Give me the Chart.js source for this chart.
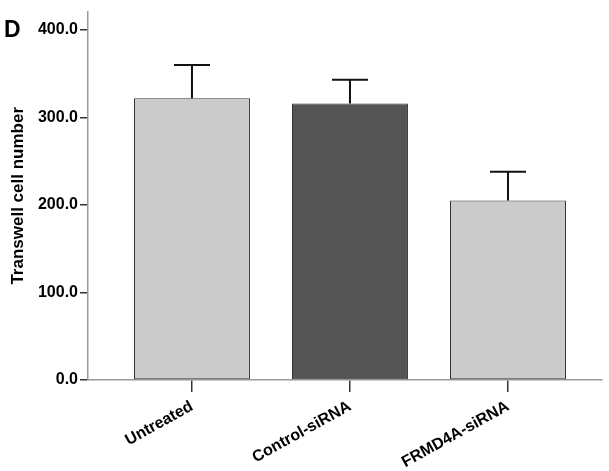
<!DOCTYPE html>
<html>
<head>
<meta charset="utf-8">
<script src="https://cdn.jsdelivr.net/npm/chart.js@4"></script>
<style>
html,body{margin:0;padding:0;background:#fff;}
canvas{display:block;}
</style>
</head>
<body>
<canvas id="c" width="609" height="471"></canvas>
<script>
const categories = ['Untreated', 'Control-siRNA', 'FRMD4A-siRNA'];
const means = [322, 316, 205];
const errors = [38, 27, 33];
const yTicks = [0, 100, 200, 300, 400];
const barColors = ['#cbcbcb', '#545454', '#cbcbcb'];
const panelLabel = 'D';
const yTitle = 'Transwell cell number';

const errorBars = {
  id: 'errorBars',
  afterDatasetsDraw(chart) {
    const xs = chart.scales.x, ys = chart.scales.y, ctx = chart.ctx;
    ctx.save();
    ctx.strokeStyle = '#111';
    ctx.lineWidth = 2;
    means.forEach((m, i) => {
      const x = xs.getPixelForValue(i);
      const y0 = ys.getPixelForValue(m);
      const y1 = ys.getPixelForValue(m + errors[i]);
      ctx.beginPath();
      ctx.moveTo(x, y0);
      ctx.lineTo(x, y1);
      ctx.moveTo(x - 18, y1);
      ctx.lineTo(x + 18, y1);
      ctx.stroke();
    });
    ctx.restore();
  },
  afterDraw(chart) {
    const ctx = chart.ctx;
    ctx.save();
    ctx.fillStyle = '#000';
    ctx.font = 'bold 23px "Liberation Sans", Arial, sans-serif';
    ctx.textBaseline = 'alphabetic';
    ctx.fillText(panelLabel, 4, 37);
    ctx.restore();
  }
};

new Chart(document.getElementById('c'), {
  type: 'bar',
  data: {
    datasets: [{
      data: means.map((v, i) => ({x: i, y: v})),
      backgroundColor: barColors,
      borderColor: '#333',
      borderWidth: 1,
      borderSkipped: false,
      barPercentage: 0.734,
      categoryPercentage: 1
    }]
  },
  options: {
    responsive: false,
    animation: false,
    layout: {padding: {top: 10, right: 7, left: 0, bottom: 0}},
    plugins: {legend: {display: false}, tooltip: {enabled: false}},
    scales: {
      x: {
        type: 'linear',
        offset: false,
        min: -0.658,
        max: 2.595,
        afterBuildTicks(axis) { axis.ticks = categories.map((c, i) => ({value: i})); },
        afterFit(scale) { scale.height = 91; },
        ticks: {
          callback: (v) => categories[v] ?? '',
          color: '#000',
          font: {family: '"Liberation Sans", Arial, sans-serif', size: 16, weight: 'bold'},
          maxRotation: 29,
          minRotation: 29,
          autoSkip: false,
          padding: 5
        },
        grid: {offset: false, drawOnChartArea: false, drawTicks: true, tickLength: 12, color: '#333', lineWidth: 1.5},
        border: {color: '#999', width: 1.5}
      },
      y: {
        min: 0,
        max: 421,
        afterBuildTicks(axis) { axis.ticks = yTicks.map(v => ({value: v})); },
        afterFit(scale) { scale.width = 88; },
        ticks: {
          callback: (v) => v.toFixed(1),
          color: '#000',
          font: {family: '"Liberation Sans", Arial, sans-serif', size: 16, weight: 'bold'},
          padding: 2
        },
        grid: {drawOnChartArea: false, drawTicks: true, tickLength: 8, color: '#333', lineWidth: 1.5},
        border: {color: '#999', width: 1.5},
        title: {
          display: true,
          text: yTitle,
          color: '#000',
          font: {family: '"Liberation Sans", Arial, sans-serif', size: 17, weight: 'bold'},
          padding: {top: 8, bottom: 0}
        }
      }
    }
  },
  plugins: [errorBars]
});
</script>
</body>
</html>
